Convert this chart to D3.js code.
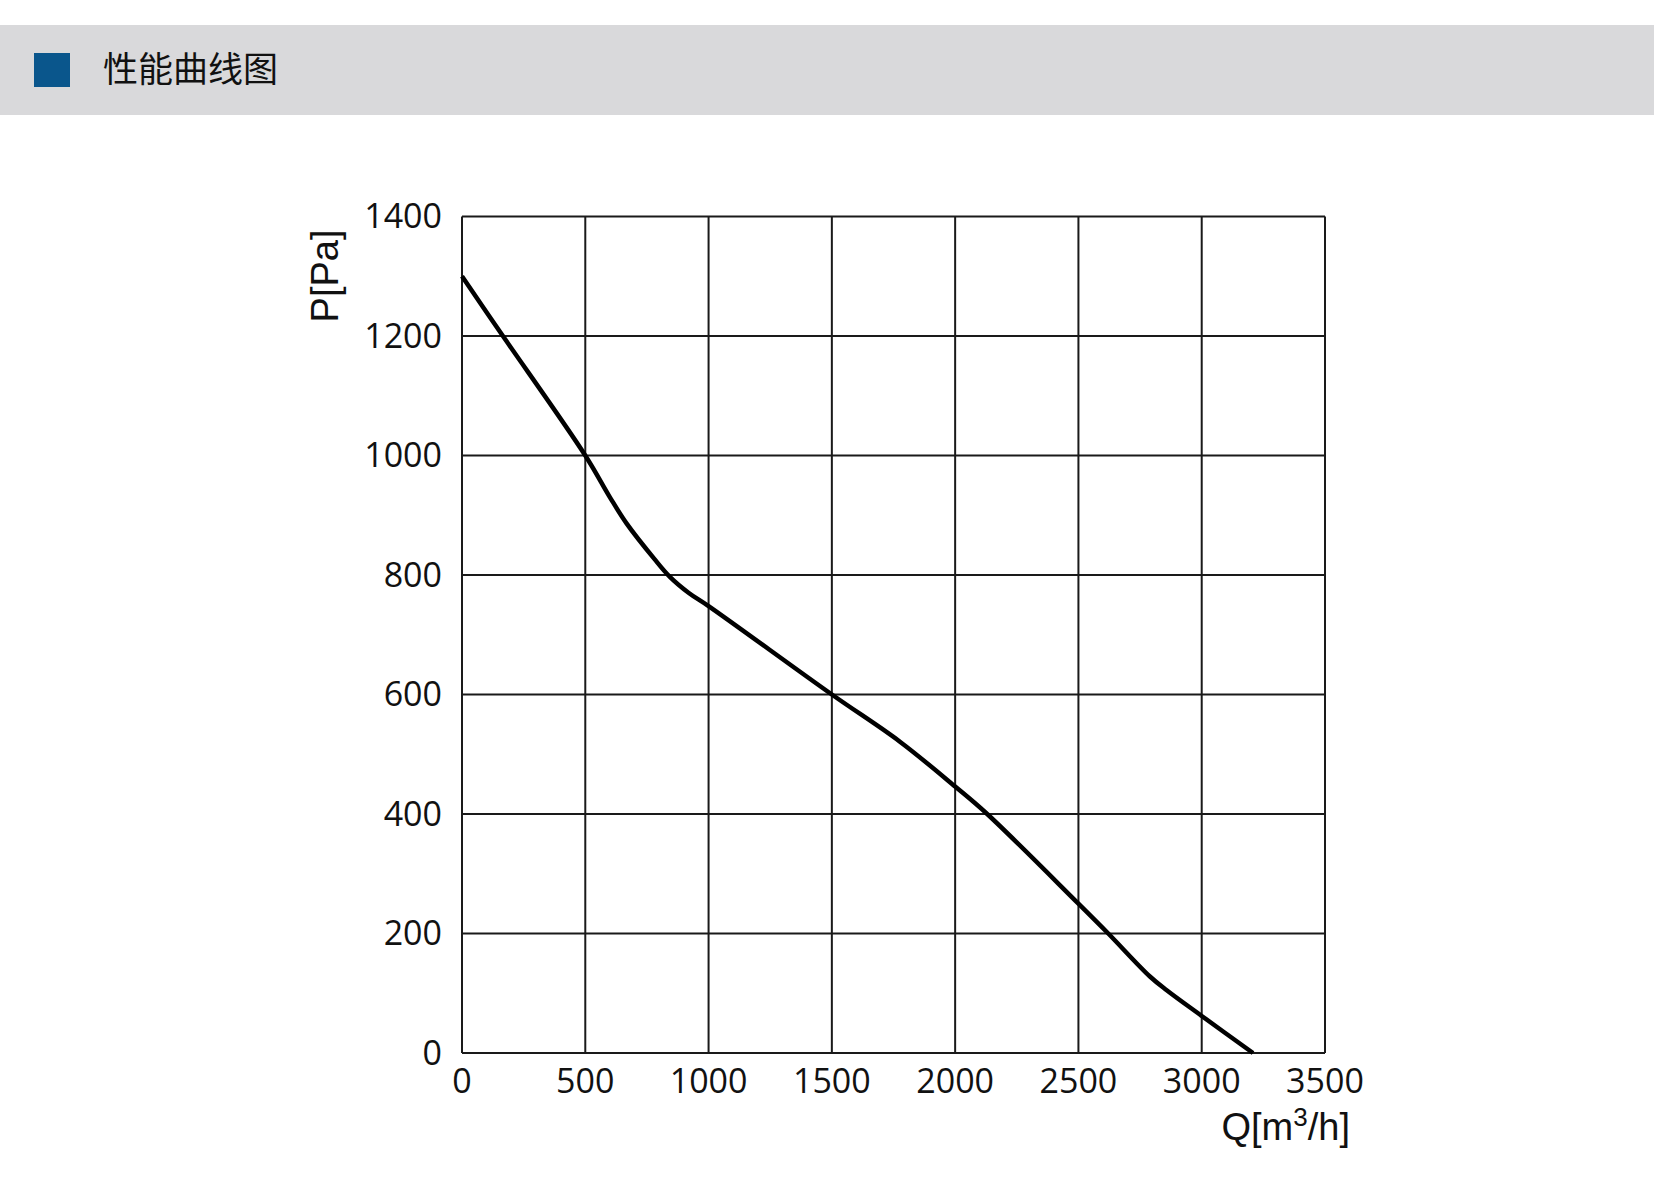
<!DOCTYPE html>
<html><head><meta charset="utf-8">
<script src="https://cdn.jsdelivr.net/npm/d3@7"></script>
<style>
html,body{margin:0;padding:0;background:#fff;}
svg{display:block;}
</style></head>
<body>
<svg id="chart" width="1654" height="1187"></svg>
<script>
const title = "性能曲线图";
const flowQ = [0,154,500,600,668,780,843,920,1000,1500,1776,2000,2130,2500,2621,2790,2858,3000,3208];
const pressureP = [1300,1207,1000,930,886,827,797,770,748,600,521,446,400,250,200,128,105,62,0];
const xTicks = [0,500,1000,1500,2000,2500,3000,3500];
const yTicks = [0,200,400,600,800,1000,1200,1400];

(function(){
const svg = d3.select("#chart");
// header band
svg.append("rect").attr("x",0).attr("y",25).attr("width",1654).attr("height",90).attr("fill","#d9d9db");
svg.append("rect").attr("x",34).attr("y",53).attr("width",36).attr("height",34).attr("fill","#0a568c");
svg.append("text").attr("x",103).attr("y",82).text(title)
  .attr("font-family","'Noto Sans CJK SC'").attr("font-size",35).attr("fill","#111");

const pL=462,pR=1325,pT=216.5,pB=1053;
const x = d3.scaleLinear().domain([0,3500]).range([pL,pR]);
const y = d3.scaleLinear().domain([0,1400]).range([pB,pT]);

const g = svg.append("g");
g.selectAll("line.v").data(xTicks).join("line").attr("class","v")
  .attr("x1",d=>x(d)).attr("x2",d=>x(d)).attr("y1",pT).attr("y2",pB)
  .attr("stroke","#1a1a1a").attr("stroke-width",2);
g.selectAll("line.h").data(yTicks).join("line").attr("class","h")
  .attr("x1",pL).attr("x2",pR).attr("y1",d=>y(d)).attr("y2",d=>y(d))
  .attr("stroke","#1a1a1a").attr("stroke-width",2);

const tickFont = "'Open Sans', sans-serif";
g.selectAll("text.xt").data(xTicks).join("text").attr("class","xt")
  .attr("x",d=>x(d)).attr("y",1093).attr("text-anchor","middle")
  .attr("font-family",tickFont).attr("font-size",34).attr("fill","#111").text(d=>d);
g.selectAll("text.yt").data(yTicks).join("text").attr("class","yt")
  .attr("x",442).attr("y",d=>y(d)).attr("dy","0.35em").attr("text-anchor","end")
  .attr("font-family",tickFont).attr("font-size",34).attr("fill","#111").text(d=>d);

// axis titles
svg.append("text").attr("transform","translate(338,276) rotate(-90)")
  .attr("text-anchor","middle").attr("font-family","'Liberation Sans', Arial, sans-serif")
  .attr("font-size",38).attr("fill","#111").text("P[Pa]");
const qt = svg.append("text").attr("x",1350).attr("y",1140).attr("text-anchor","end")
  .attr("font-family","'Liberation Sans', Arial, sans-serif").attr("font-size",38).attr("fill","#111");
qt.append("tspan").text("Q[m");
qt.append("tspan").attr("font-size",26).attr("dy",-14).text("3");
qt.append("tspan").attr("dy",14).text("/h]");

const line = d3.line().x((d,i)=>x(flowQ[i])).y((d,i)=>y(pressureP[i])).curve(d3.curveCatmullRom.alpha(0.5));
g.append("path").datum(pressureP).attr("d",line).attr("fill","none")
  .attr("stroke","#000").attr("stroke-width",4.5).attr("stroke-linejoin","round");
})();
</script>
</body></html>
